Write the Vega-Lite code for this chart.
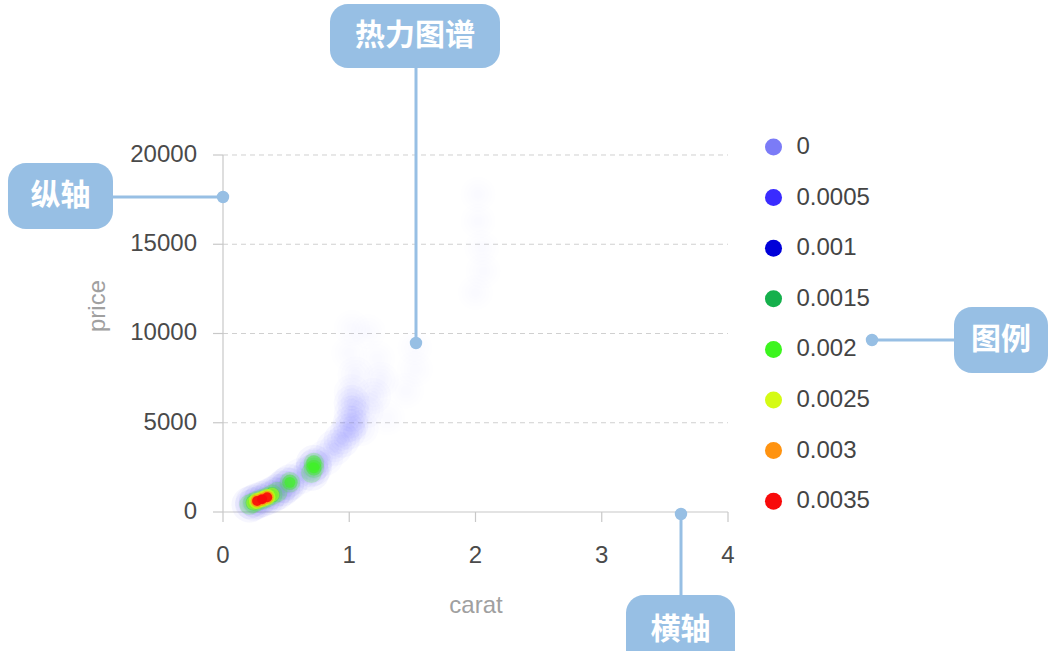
{
  "$schema": "https://vega.github.io/schema/vega-lite/v6.json",
  "width": 1051,
  "height": 651,
  "autosize": {"type": "fit", "contains": "padding"},
  "padding": 0,
  "background": "white",
  "config": {"view": {"stroke": null}},
  "datasets": {
    "heat": [
      {"carat": 0.27, "price": 620, "d": 0.0033},
      {"carat": 0.31, "price": 720, "d": 0.0035},
      {"carat": 0.35, "price": 830, "d": 0.0033},
      {"carat": 0.24, "price": 520, "d": 0.0022},
      {"carat": 0.39, "price": 960, "d": 0.0022},
      {"carat": 0.43, "price": 1120, "d": 0.0014},
      {"carat": 0.21, "price": 420, "d": 0.0013},
      {"carat": 0.47, "price": 1320, "d": 0.0010},
      {"carat": 0.53, "price": 1660, "d": 0.0020},
      {"carat": 0.50, "price": 1500, "d": 0.0011},
      {"carat": 0.72, "price": 2480, "d": 0.0019},
      {"carat": 0.72, "price": 2750, "d": 0.0016},
      {"carat": 0.70, "price": 2200, "d": 0.0013},
      {"carat": 0.61, "price": 2000, "d": 0.0005},
      {"carat": 0.81, "price": 3050, "d": 0.0004},
      {"carat": 0.88, "price": 3600, "d": 0.0005},
      {"carat": 0.94, "price": 4050, "d": 0.0006},
      {"carat": 0.99, "price": 4500, "d": 0.0005},
      {"carat": 1.01, "price": 4950, "d": 0.0005},
      {"carat": 1.02, "price": 5500, "d": 0.0004},
      {"carat": 1.02, "price": 6100, "d": 0.0004},
      {"carat": 1.02, "price": 6700, "d": 0.00025},
      {"carat": 1.09, "price": 4700, "d": 0.00025},
      {"carat": 1.13, "price": 5700, "d": 0.00022},
      {"carat": 1.19, "price": 6500, "d": 0.0002},
      {"carat": 1.25, "price": 7400, "d": 0.00015},
      {"carat": 1.22, "price": 8600, "d": 0.0001},
      {"carat": 1.05, "price": 7700, "d": 0.00014},
      {"carat": 1.00, "price": 8900, "d": 0.0001},
      {"carat": 1.02, "price": 10300, "d": 0.00007},
      {"carat": 1.15, "price": 10100, "d": 0.00005},
      {"carat": 1.30, "price": 5300, "d": 0.0001},
      {"carat": 1.45, "price": 6800, "d": 0.00008},
      {"carat": 1.52, "price": 8000, "d": 0.00007},
      {"carat": 1.52, "price": 9200, "d": 0.00004},
      {"carat": 2.02, "price": 17800, "d": 0.00004},
      {"carat": 2.02, "price": 16300, "d": 0.00005},
      {"carat": 2.05, "price": 14800, "d": 0.00005},
      {"carat": 2.06, "price": 13500, "d": 0.00004},
      {"carat": 2.00, "price": 12300, "d": 0.00003}
    ],
    "grid": [{"price": 5000}, {"price": 10000}, {"price": 15000}, {"price": 20000}],
    "yticks": [
      {"price": 0, "label": "0"},
      {"price": 5000, "label": "5000"},
      {"price": 10000, "label": "10000"},
      {"price": 15000, "label": "15000"},
      {"price": 20000, "label": "20000"}
    ],
    "xticks": [
      {"carat": 0, "label": "0"},
      {"carat": 1, "label": "1"},
      {"carat": 2, "label": "2"},
      {"carat": 3, "label": "3"},
      {"carat": 4, "label": "4"}
    ],
    "axislines": [
      {"carat": 0, "price": 0, "carat2": 0, "price2": 20000},
      {"carat": 0, "price": 0, "carat2": 4, "price2": 0}
    ],
    "ytitle": [{"carat": -0.9901, "price": 11541, "label": "price"}],
    "xtitle": [{"carat": 2.004, "price": -5266, "label": "carat"}],
    "boxes": [
      {"label": "纵轴", "left": -1.7030, "right": -0.8713, "top": 19552, "bottom": 15854, "cx": -1.2871, "cy": 17703},
      {"label": "热力图谱", "left": 0.8475, "right": 2.1941, "top": 28459, "bottom": 24874, "cx": 1.5208, "cy": 26666},
      {"label": "图例", "left": 5.7901, "right": 6.5347, "top": 11485, "bottom": 7787, "cx": 6.1624, "cy": 9636}
    ],
    "bottombox": [
      {"label": "横轴", "left": 3.1921, "right": 4.0554, "top": -4650, "bottom": -7787, "cx": 3.6238, "cy": -6610}
    ],
    "leaders": [
      {"carat": -0.8713, "carat2": 0, "price": 17647, "price2": 17647, "dotCarat": 0, "dotPrice": 17647},
      {"carat": 1.5287, "carat2": 1.5287, "price": 24874, "price2": 9468, "dotCarat": 1.5287, "dotPrice": 9468},
      {"carat": 5.1406, "carat2": 5.7901, "price": 9636, "price2": 9636, "dotCarat": 5.1406, "dotPrice": 9636},
      {"carat": 3.6277, "carat2": 3.6277, "price": -112, "price2": -4650, "dotCarat": 3.6277, "dotPrice": -112}
    ]
  },
  "layer": [
    {
      "data": {"name": "grid"},
      "mark": {"type": "rule", "color": "#d0d0d0", "strokeWidth": 1, "strokeDash": [5, 4]},
      "encoding": {
        "x": {"datum": 0, "type": "quantitative", "scale": {"domain": [-1.7663, 6.5584], "nice": false, "zero": false}, "axis": null},
        "x2": {"datum": 4},
        "y": {"field": "price", "type": "quantitative", "scale": {"domain": [-7787, 28683], "nice": false, "zero": false}, "axis": null}
      }
    },
    {
      "data": {"name": "axislines"},
      "mark": {"type": "rule", "color": "#c8c8c8", "strokeWidth": 1.2},
      "encoding": {
        "x": {"field": "carat", "type": "quantitative"},
        "x2": {"field": "carat2"},
        "y": {"field": "price", "type": "quantitative"},
        "y2": {"field": "price2"}
      }
    },
    {
      "data": {"name": "yticks"},
      "mark": {"type": "rule", "color": "#c8c8c8", "strokeWidth": 1.2},
      "encoding": {
        "x": {"datum": -0.0792, "type": "quantitative"},
        "x2": {"datum": 0},
        "y": {"field": "price", "type": "quantitative"}
      }
    },
    {
      "data": {"name": "xticks"},
      "mark": {"type": "rule", "color": "#c8c8c8", "strokeWidth": 1.2},
      "encoding": {
        "x": {"field": "carat", "type": "quantitative"},
        "y": {"datum": 0, "type": "quantitative"},
        "y2": {"datum": -560}
      }
    },
    {
      "data": {"name": "yticks"},
      "mark": {"type": "text", "align": "right", "baseline": "middle", "font": "Liberation Sans", "fontSize": 24, "color": "#4a4a4a"},
      "encoding": {
        "x": {"datum": -0.2059, "type": "quantitative"},
        "y": {"field": "price", "type": "quantitative"},
        "text": {"field": "label"}
      }
    },
    {
      "data": {"name": "xticks"},
      "mark": {"type": "text", "align": "center", "baseline": "middle", "font": "Liberation Sans", "fontSize": 24, "color": "#4a4a4a"},
      "encoding": {
        "x": {"field": "carat", "type": "quantitative"},
        "y": {"datum": -2465, "type": "quantitative"},
        "text": {"field": "label"}
      }
    },
    {
      "data": {"name": "ytitle"},
      "mark": {"type": "text", "align": "center", "baseline": "middle", "angle": 270, "font": "Liberation Sans", "fontSize": 24, "color": "#a0a0a0"},
      "encoding": {
        "x": {"field": "carat", "type": "quantitative"},
        "y": {"field": "price", "type": "quantitative"},
        "text": {"field": "label"}
      }
    },
    {
      "data": {"name": "xtitle"},
      "mark": {"type": "text", "align": "center", "baseline": "middle", "font": "Liberation Sans", "fontSize": 24, "color": "#a0a0a0"},
      "encoding": {
        "x": {"field": "carat", "type": "quantitative"},
        "y": {"field": "price", "type": "quantitative"},
        "text": {"field": "label"}
      }
    },
    {
      "data": {"name": "heat"},
      "mark": {"type": "circle", "size": 1300, "color": "#7b7bf7"},
      "encoding": {
        "x": {"field": "carat", "type": "quantitative"},
        "y": {"field": "price", "type": "quantitative"},
        "opacity": {"field": "d", "type": "quantitative", "scale": {"domain": [0, 0.0007], "range": [0, 0.065], "clamp": true, "zero": true}, "legend": null}
      }
    },
    {
      "data": {"name": "heat"},
      "mark": {"type": "circle", "size": 850, "color": "#7b7bf7"},
      "encoding": {
        "x": {"field": "carat", "type": "quantitative"},
        "y": {"field": "price", "type": "quantitative"},
        "opacity": {"field": "d", "type": "quantitative", "legend": null}
      }
    },
    {
      "data": {"name": "heat"},
      "mark": {"type": "circle", "size": 500, "color": "#7b7bf7"},
      "encoding": {
        "x": {"field": "carat", "type": "quantitative"},
        "y": {"field": "price", "type": "quantitative"},
        "opacity": {"field": "d", "type": "quantitative", "legend": null}
      }
    },
    {
      "data": {"name": "heat"},
      "mark": {"type": "circle", "size": 250, "color": "#7b7bf7"},
      "encoding": {
        "x": {"field": "carat", "type": "quantitative"},
        "y": {"field": "price", "type": "quantitative"},
        "opacity": {"field": "d", "type": "quantitative", "legend": null}
      }
    },
    {
      "data": {"name": "heat"},
      "mark": {"type": "circle", "size": 100, "color": "#7b7bf7"},
      "encoding": {
        "x": {"field": "carat", "type": "quantitative"},
        "y": {"field": "price", "type": "quantitative"},
        "opacity": {"field": "d", "type": "quantitative", "legend": null}
      }
    },
    {
      "data": {"name": "heat"},
      "transform": [{"filter": "datum.d >= 0.0012"}],
      "mark": {"type": "circle", "size": 420, "fillOpacity": 0.22},
      "encoding": {
        "x": {"field": "carat", "type": "quantitative"},
        "y": {"field": "price", "type": "quantitative"},
        "color": {
          "datum": "0.002", "type": "nominal",
          "scale": {
            "domain": ["0", "0.0005", "0.001", "0.0015", "0.002", "0.0025", "0.003", "0.0035"],
            "range": ["#7b7bf7", "#3a2bff", "#0000d9", "#15b04c", "#3cf51e", "#d5fb14", "#ff9310", "#f80a0a"]
          },
          "legend": {
            "orient": "none", "legendX": 761.5, "legendY": 135, "title": null, "direction": "vertical",
            "symbolType": "circle", "symbolSize": 290, "symbolOpacity": 1, "symbolFillOpacity": 1, "symbolStrokeWidth": 0,
            "labelFont": "Liberation Sans", "labelFontSize": 24, "labelColor": "#444444", "labelOffset": 11,
            "rowPadding": 26.6, "padding": 0
          }
        }
      }
    },
    {
      "data": {"name": "heat"},
      "transform": [{"filter": "datum.d >= 0.0015"}],
      "mark": {"type": "circle", "size": 240, "fillOpacity": 0.45},
      "encoding": {
        "x": {"field": "carat", "type": "quantitative"},
        "y": {"field": "price", "type": "quantitative"},
        "color": {"datum": "0.002", "type": "nominal"}
      }
    },
    {
      "data": {"name": "heat"},
      "transform": [{"filter": "datum.d >= 0.0017"}],
      "mark": {"type": "circle", "size": 120, "fillOpacity": 0.6},
      "encoding": {
        "x": {"field": "carat", "type": "quantitative"},
        "y": {"field": "price", "type": "quantitative"},
        "color": {"datum": "0.002", "type": "nominal"}
      }
    },
    {
      "data": {"name": "heat"},
      "transform": [{"filter": "datum.d >= 0.0021"}],
      "mark": {"type": "circle", "size": 200, "fillOpacity": 0.4},
      "encoding": {
        "x": {"field": "carat", "type": "quantitative"},
        "y": {"field": "price", "type": "quantitative"},
        "color": {"datum": "0.0025", "type": "nominal"}
      }
    },
    {
      "data": {"name": "heat"},
      "transform": [{"filter": "datum.d >= 0.0030"}],
      "mark": {"type": "circle", "size": 270, "fillOpacity": 0.6},
      "encoding": {
        "x": {"field": "carat", "type": "quantitative"},
        "y": {"field": "price", "type": "quantitative"},
        "color": {"datum": "0.0025", "type": "nominal"}
      }
    },
    {
      "data": {"name": "heat"},
      "transform": [{"filter": "datum.d >= 0.0030"}],
      "mark": {"type": "circle", "size": 170, "fillOpacity": 0.75},
      "encoding": {
        "x": {"field": "carat", "type": "quantitative"},
        "y": {"field": "price", "type": "quantitative"},
        "color": {"datum": "0.003", "type": "nominal"}
      }
    },
    {
      "data": {"name": "heat"},
      "transform": [{"filter": "datum.d >= 0.0033"}],
      "mark": {"type": "circle", "size": 100, "fillOpacity": 0.9},
      "encoding": {
        "x": {"field": "carat", "type": "quantitative"},
        "y": {"field": "price", "type": "quantitative"},
        "color": {"datum": "0.0035", "type": "nominal"}
      }
    },
    {
      "data": {"name": "heat"},
      "transform": [{"filter": "datum.d >= 0.0035"}],
      "mark": {"type": "circle", "size": 70, "fillOpacity": 1},
      "encoding": {
        "x": {"field": "carat", "type": "quantitative"},
        "y": {"field": "price", "type": "quantitative"},
        "color": {"datum": "0.0035", "type": "nominal"}
      }
    },
    {
      "data": {"name": "leaders"},
      "mark": {"type": "rule", "color": "#97bfe4", "strokeWidth": 3},
      "encoding": {
        "x": {"field": "carat", "type": "quantitative"},
        "x2": {"field": "carat2"},
        "y": {"field": "price", "type": "quantitative"},
        "y2": {"field": "price2"}
      }
    },
    {
      "data": {"name": "leaders"},
      "mark": {"type": "circle", "size": 154, "color": "#97bfe4", "opacity": 1},
      "encoding": {
        "x": {"field": "dotCarat", "type": "quantitative"},
        "y": {"field": "dotPrice", "type": "quantitative"}
      }
    },
    {
      "data": {"name": "boxes"},
      "mark": {"type": "rect", "color": "#97bfe4", "cornerRadius": 18},
      "encoding": {
        "x": {"field": "left", "type": "quantitative"},
        "x2": {"field": "right"},
        "y": {"field": "top", "type": "quantitative"},
        "y2": {"field": "bottom"}
      }
    },
    {
      "data": {"name": "bottombox"},
      "mark": {"type": "rect", "color": "#97bfe4", "cornerRadiusTopLeft": 18, "cornerRadiusTopRight": 18},
      "encoding": {
        "x": {"field": "left", "type": "quantitative"},
        "x2": {"field": "right"},
        "y": {"field": "top", "type": "quantitative"},
        "y2": {"field": "bottom"}
      }
    },
    {
      "data": {"name": "boxes"},
      "mark": {"type": "text", "align": "center", "baseline": "middle", "font": "Noto Sans CJK SC", "fontWeight": "bold", "fontSize": 30, "color": "white"},
      "encoding": {
        "x": {"field": "cx", "type": "quantitative"},
        "y": {"field": "cy", "type": "quantitative"},
        "text": {"field": "label"}
      }
    },
    {
      "data": {"name": "bottombox"},
      "mark": {"type": "text", "align": "center", "baseline": "middle", "font": "Noto Sans CJK SC", "fontWeight": "bold", "fontSize": 30, "color": "white"},
      "encoding": {
        "x": {"field": "cx", "type": "quantitative"},
        "y": {"field": "cy", "type": "quantitative"},
        "text": {"field": "label"}
      }
    }
  ]
}
